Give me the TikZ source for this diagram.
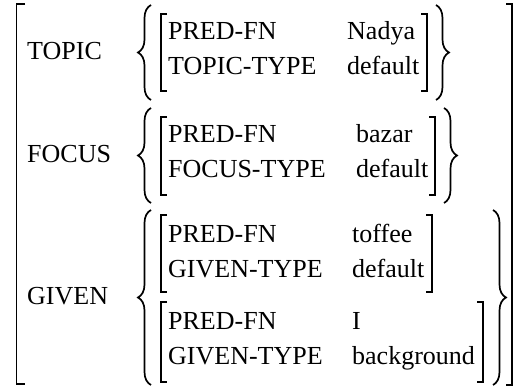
\documentclass[tikz,border=0pt]{standalone}
\usepackage{fontspec}
\setmainfont{LiberationSerif}[Extension=.ttf, UprightFont=*-Regular, BoldFont=*-Bold]
\usetikzlibrary{decorations.pathreplacing}

\begin{document}
\begin{tikzpicture}[x=1pt,y=-1pt,
    curly/.style={decorate, decoration={brace, amplitude=13pt}, line width=1.7pt}]
  \useasboundingbox (0,0) rectangle (515,387);

  \begin{scope}[every node/.style={anchor=base west, inner sep=0pt,
      font=\fontsize{26}{30}\selectfont}]
    \node (topic) at (27,60)  {TOPIC};
    \node (focus) at (27,163) {FOCUS};
    \node (given) at (27,305) {GIVEN};

    % TOPIC value
    \node (a1) at (168,40)  {PRED-FN};
    \node (a2) at (168,75)  {TOPIC-TYPE};
    \node (v1) at (347,40)  {Nadya};
    \node (v2) at (347,75)  {default};

    % FOCUS value
    \node (a3) at (168,143) {PRED-FN};
    \node (a4) at (168,178) {FOCUS-TYPE};
    \node (v3) at (356,143) {bazar};
    \node (v4) at (356,178) {default};

    % GIVEN values
    \node (a5) at (168,243) {PRED-FN};
    \node (a6) at (168,278) {GIVEN-TYPE};
    \node (v5) at (352,243) {toffee};
    \node (v6) at (352,278) {default};

    \node (a7) at (168,330) {PRED-FN};
    \node (a8) at (168,365) {GIVEN-TYPE};
    \node (v7) at (352,330) {I};
    \node (v8) at (352,365) {background};
  \end{scope}

  \begin{scope}[line width=1.1pt]
    % outer brackets
    \draw (25,4) -- (16.5,4) -- (16.5,384) -- (25,384);
    \draw (506,4) -- (512,4) -- (512,385) -- (506,385);

    % inner brackets
    \draw (167,14) -- (161,14) -- (161,91) -- (167,91);
    \draw (421,14) -- (427,14) -- (427,91) -- (421,91);

    \draw (167,117) -- (161,117) -- (161,195) -- (167,195);
    \draw (429,117) -- (435,117) -- (435,195) -- (429,195);

    \draw (167,215) -- (161,215) -- (161,292) -- (167,292);
    \draw (426,215) -- (432,215) -- (432,292) -- (426,292);

    \draw (167,302) -- (161,302) -- (161,382) -- (167,382);
    \draw (477,302) -- (483,302) -- (483,382) -- (477,382);
  \end{scope}

  % set braces
  \draw[curly] (151,100) -- (151,5);
  \draw[curly] (436,5) -- (436,100);

  \draw[curly] (151,203) -- (151,108);
  \draw[curly] (444,108) -- (444,203);

  \draw[curly] (151,385) -- (151,210);
  \draw[curly] (493,210) -- (493,385);
\end{tikzpicture}
\end{document}
